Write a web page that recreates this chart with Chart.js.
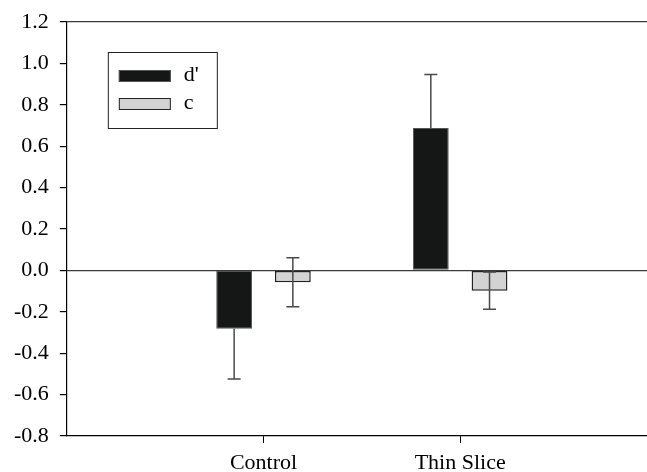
<!DOCTYPE html>
<html>
<head>
<meta charset="utf-8">
<script src="https://cdn.jsdelivr.net/npm/chart.js@4/dist/chart.umd.min.js"></script>
<style>
  body { margin: 0; background: #fff; }
</style>
</head>
<body>
<canvas id="sdtChart" width="647" height="472"></canvas>
<script>
// values
var categories = ['Control', 'Thin Slice'];
var dPrime = [-0.282, 0.688];
var dPrimeErrLow = [0.243, 0];
var dPrimeErrHigh = [0, 0.258];
var cValues = [-0.057, -0.098];
var cErrLow = [0.118, 0.09];
var cErrHigh = [0.118, 0.09];
var yMin = -0.8, yMax = 1.2, yStep = 0.2;

function toPoints(vals) {
  return vals.map(function (v, i) { return { x: i + 1, y: v }; });
}

// error bars, drawn over the bars through the y scale
var errorBars = {
  id: 'errorBars',
  afterDatasetsDraw: function (chart) {
    var ctx = chart.ctx, y = chart.scales.y;
    chart.data.datasets.forEach(function (ds, di) {
      var meta = chart.getDatasetMeta(di);
      meta.data.forEach(function (bar, i) {
        var v = ds.data[i].y;
        var lo = ds.errLow[i], hi = ds.errHigh[i];
        var yTop = y.getPixelForValue(v + hi);
        var yBot = y.getPixelForValue(v - lo);
        ctx.save();
        ctx.strokeStyle = '#4a4a4a';
        ctx.lineWidth = 1.5;
        ctx.beginPath();
        ctx.moveTo(bar.x, yTop);
        ctx.lineTo(bar.x, yBot);
        if (hi > 0) { ctx.moveTo(bar.x - 6.5, yTop); ctx.lineTo(bar.x + 6.5, yTop); }
        if (lo > 0) { ctx.moveTo(bar.x - 6.5, yBot); ctx.lineTo(bar.x + 6.5, yBot); }
        ctx.stroke();
        ctx.restore();
      });
    });
  }
};

// boxed legend inside the plot area, top left
var boxLegend = {
  id: 'boxLegend',
  afterDraw: function (chart) {
    var ctx = chart.ctx, a = chart.chartArea;
    var bx = a.left + 41, by = a.top + 30;
    ctx.save();
    ctx.strokeStyle = '#222';
    ctx.lineWidth = 1;
    ctx.strokeRect(bx + 0.5, by + 0.5, 109, 76);
    chart.data.datasets.forEach(function (ds, i) {
      var sy = by + 18 + i * 28;
      ctx.fillStyle = ds.backgroundColor;
      ctx.fillRect(bx + 11, sy, 52, 12);
      ctx.strokeStyle = ds.borderColor;
      ctx.lineWidth = 1;
      ctx.strokeRect(bx + 11.5, sy + 0.5, 51, 11);
      ctx.fillStyle = '#000';
      ctx.font = '22px "Liberation Serif"';
      ctx.textBaseline = 'middle';
      ctx.fillText(ds.label, bx + 76, sy + 5);
    });
    ctx.restore();
  }
};

var ctx = document.getElementById('sdtChart').getContext('2d');

var sdtChart = new Chart(ctx, {
  type: 'bar',
  data: {
    datasets: [{
      label: "d'",
      data: toPoints(dPrime),
      errLow: dPrimeErrLow,
      errHigh: dPrimeErrHigh,
      backgroundColor: '#151716',
      borderColor: '#555555',
      borderWidth: 1,
      borderSkipped: false
    }, {
      label: 'c',
      data: toPoints(cValues),
      errLow: cErrLow,
      errHigh: cErrHigh,
      backgroundColor: '#d3d3d3',
      borderColor: '#222222',
      borderWidth: 1.5,
      borderSkipped: false
    }]
  },
  options: {
    responsive: false,
    animation: false,
    categoryPercentage: 0.597,
    barPercentage: 0.61,
    layout: { padding: { top: 11, right: 0, left: 3, bottom: -11 } },
    plugins: { legend: { display: false }, tooltip: { enabled: false } },
    scales: {
      x: {
        type: 'linear',
        min: 0,
        max: 2.95,
        offset: false,
        afterBuildTicks: function (axis) {
          axis.ticks = categories.map(function (c, i) { return { value: i + 1 }; });
        },
        ticks: {
          autoSkip: false,
          maxRotation: 0,
          padding: 9,
          color: '#000',
          font: { family: 'Liberation Serif', size: 22, lineHeight: 1 },
          callback: function (v) { return categories[Math.round(v) - 1]; }
        },
        grid: { offset: false, drawOnChartArea: false, drawTicks: true, tickLength: 7, color: '#000' },
        border: { display: true, color: '#000', width: 1.2 }
      },
      y: {
        min: yMin,
        max: yMax,
        ticks: {
          stepSize: yStep,
          padding: 11,
          color: '#000',
          font: { family: 'Liberation Serif', size: 22, lineHeight: 1 },
          callback: function (v) { return v.toFixed(1); }
        },
        grid: {
          drawTicks: true,
          tickLength: 7,
          tickColor: '#000',
          lineWidth: 1.2,
          color: function (c) {
            var v = c.tick ? c.tick.value : null;
            if (v !== null && (Math.abs(v) < 1e-9 || Math.abs(v - yMax) < 1e-9)) return '#3a3a3a';
            return 'rgba(0,0,0,0)';
          }
        },
        border: { display: true, color: '#000', width: 1.2 }
      }
    }
  },
  plugins: [errorBars, boxLegend]
});
</script>
</body>
</html>
